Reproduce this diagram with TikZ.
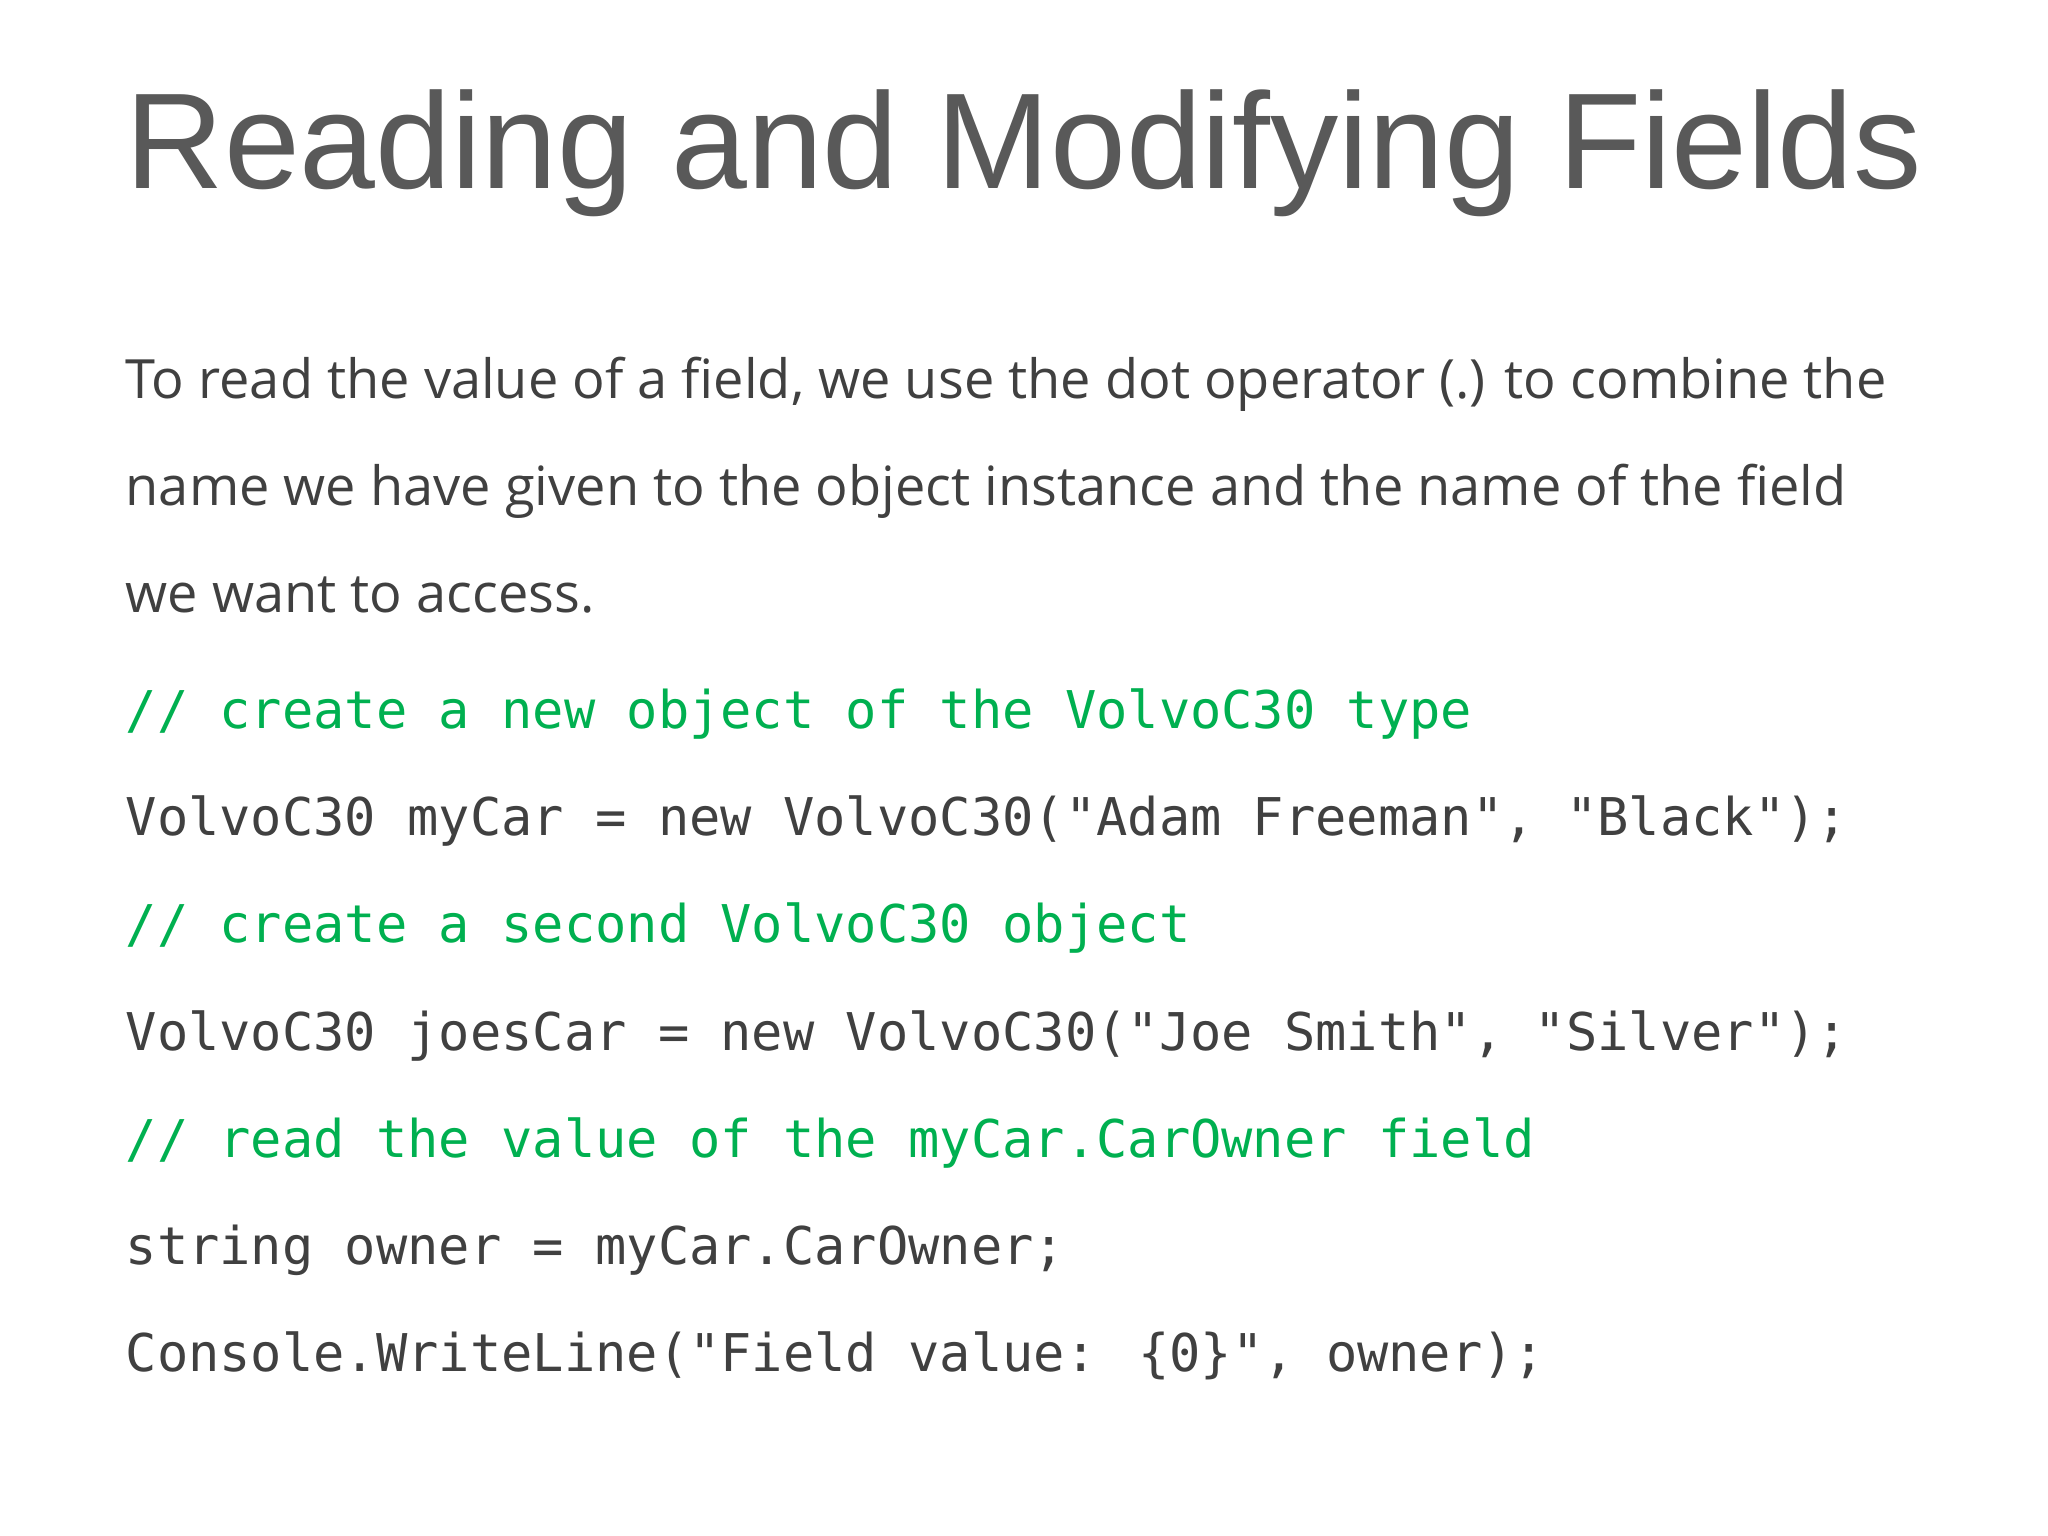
\documentclass[tikz,border=0pt]{standalone}
\usepackage{fontspec}
\setmainfont{Open Sans}
\newfontfamily\titlefont{Liberation Sans}
\newfontfamily\codefont{DejaVu Sans Mono}
\definecolor{titlegray}{HTML}{595959}
\definecolor{bodygray}{HTML}{404040}
\definecolor{codegreen}{HTML}{00B050}
\begin{document}
\begin{tikzpicture}[x=1cm,y=1cm,
  title/.style={anchor=base west,inner sep=0pt,text=titlegray,font=\titlefont\fontsize{38.8}{46}\selectfont},
  body/.style={anchor=base west,inner sep=0pt,text=bodygray,font=\fontsize{15.4}{19}\selectfont},
  code/.style={anchor=base west,inner sep=0pt,text=bodygray,font=\codefont\fontsize{14.8}{17}\selectfont},
  comment/.style={code,text=codegreen}]
\fill[white] (0,0) rectangle (20.48,-15.36);
\useasboundingbox (0,0) rectangle (20.48,-15.36);
\node[title] (t) at (1.25,-1.89) {Reading and Modifying Fields};
\node[body] (b1) at (1.25,-3.99) {To read the value of a field, we use the dot operator (.) to combine the};
\node[body] (b2) at (1.25,-5.06) {name we have given to the object instance and the name of the field};
\node[body] (b3) at (1.25,-6.13) {we want to access.};
\node[comment] (c1) at (1.25,-7.29) {// create a new object of the VolvoC30 type};
\node[code] (c2) at (1.25,-8.36) {VolvoC30 myCar = new VolvoC30("Adam Freeman", "Black");};
\node[comment] (c3) at (1.25,-9.43) {// create a second VolvoC30 object};
\node[code] (c4) at (1.25,-10.50) {VolvoC30 joesCar = new VolvoC30("Joe Smith", "Silver");};
\node[comment] (c5) at (1.25,-11.57) {// read the value of the myCar.CarOwner field};
\node[code] (c6) at (1.25,-12.64) {string owner = myCar.CarOwner;};
\node[code] (c7) at (1.25,-13.71) {Console.WriteLine("Field value: \{0\}", owner);};
\end{tikzpicture}
\end{document}
